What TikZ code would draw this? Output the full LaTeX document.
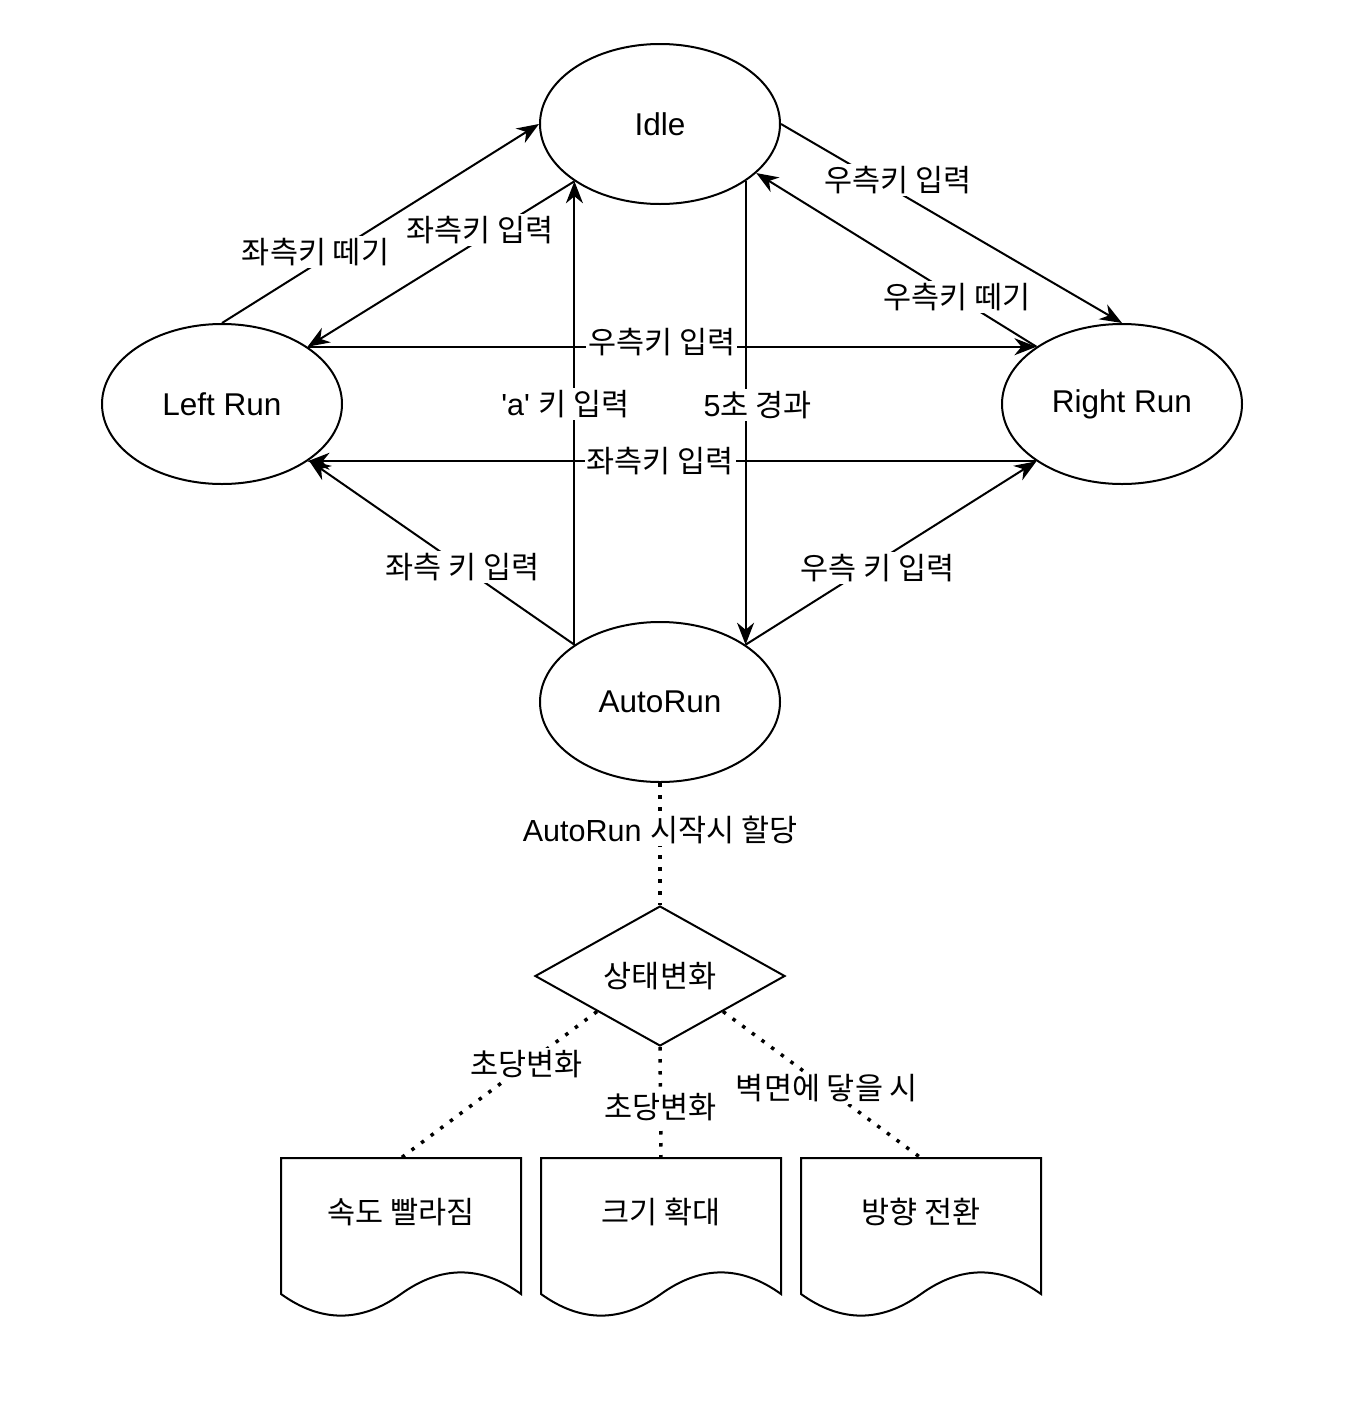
\documentclass[tikz,border=0pt]{standalone}
\usepackage{fontspec}
\setmainfont{Liberation Sans}
\newfontfamily\kr{Noto Sans CJK KR}
\usetikzlibrary{shapes.geometric,arrows.meta}
\tikzset{
  state/.style={ellipse,draw,line width=2pt,minimum width=240pt,minimum height=160pt,inner sep=0pt,font=\fontsize{31.5}{36}\selectfont},
  decide/.style={diamond,draw,line width=2pt,minimum width=250pt,minimum height=140pt,inner sep=0pt,aspect=1.8,font=\fontsize{30.5}{36}\selectfont},
  doctext/.style={inner sep=0pt,font=\fontsize{30.5}{36}\selectfont},
  conn/.style={line width=2pt,-{Stealth[length=22pt,width=17pt,inset=7pt]}},
  dotline/.style={line width=3.5pt,dash pattern=on 3.5pt off 8.5pt},
  lbl/.style={fill=white,inner sep=2pt,font=\fontsize{30.5}{36}\selectfont},
  docline/.style={line width=2pt},
}
\newcommand\docbox[4]{% name, left x, center x, text
  \draw[docline,shift={(#2,1158)}] (0,0) -- (240,0) -- (240,136)
    .. controls (200,107.2) and (160,107.2) .. (120,136)
    .. controls (80,164.8) and (40,164.8) .. (0,136) -- cycle;
  \coordinate (#1-top) at (#3,1158);
  \node[doctext] (#1) at (#3,1212) {#4};
}
\begin{document}
\begin{tikzpicture}[x=1pt,y=-1pt]
\useasboundingbox (0,0) rectangle (1346,1416);
\node[state] (idle) at (660,124) {Idle};
\node[state] (left) at (222,404) {Left Run};
\node[state] (right) at (1122,404) {Right Run};
\node[state] (auto) at (660,702) {AutoRun};
\node[decide] (chg) at (660,976) {\kr 상태변화};
\docbox{doc1}{281}{401}{\kr 속도 빨라짐}
\docbox{doc2}{541}{661}{\kr 크기 확대}
\docbox{doc3}{801}{921}{\kr 방향 전환}

\draw[conn] (left.north) -- node[lbl,pos=0.295,yshift=12pt]{\kr 좌측키 떼기} (idle.west);
\draw[conn] (idle.south west) -- node[lbl,pos=0.354,yshift=10pt]{\kr 좌측키 입력} (left.north east);
\draw[conn] (left.north east) -- node[lbl,pos=0.486,yshift=5pt]{\kr 우측키 입력} (right.north west);
\draw[conn] (right.south west) -- node[lbl,pos=0.516]{\kr 좌측키 입력} (left.south east);
\draw[conn] (idle.east) -- node[lbl,pos=0.342,yshift=12pt]{\kr 우측키 입력} (right.north);
\draw[conn] (right.north west) -- node[lbl,pos=0.285]{\kr 우측키 떼기} (idle.-27);
\draw[conn] (auto.north west) -- node[lbl,pos=0.52,xshift=-9pt]{\textquotesingle a\textquotesingle{} {\kr 키 입력}} (idle.south west);
\draw[conn] (idle.south east) -- node[lbl,pos=0.483,xshift=12pt]{5{\kr 초 경과}} (auto.north east);
\draw[conn] (auto.north west) -- node[lbl,pos=0.42]{\kr 좌측 키 입력} (left.-33);
\draw[conn] (auto.north east) -- node[lbl,pos=0.455,yshift=-7pt]{\kr 우측 키 입력} (right.south west);

\draw[dotline] (auto.south) -- node[lbl,pos=0.387]{AutoRun {\kr 시작시 할당}} (chg.north);
\draw[dotline] (chg.south west) -- node[lbl,pos=0.36]{\kr 초당변화} (doc1-top);
\draw[dotline] (chg.south) -- node[lbl,pos=0.545]{\kr 초당변화} (doc2-top);
\draw[dotline] (chg.south east) -- node[lbl,pos=0.525]{\kr 벽면에 닿을 시} (doc3-top);
\end{tikzpicture}
\end{document}
